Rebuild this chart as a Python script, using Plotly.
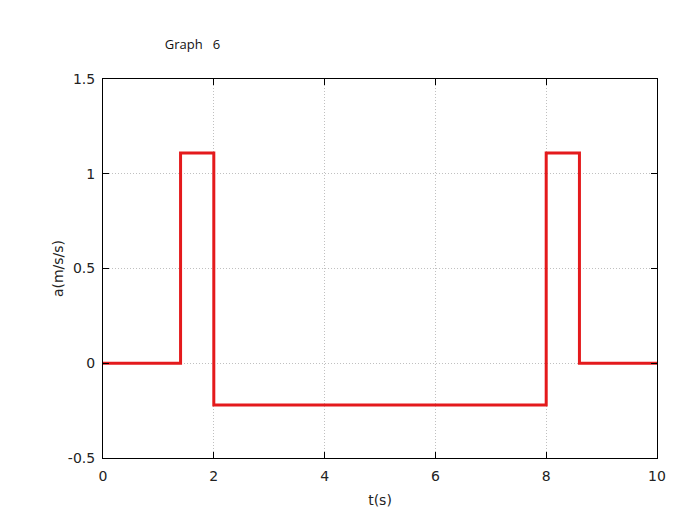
import plotly.graph_objects as go

# step points of the acceleration (drawn as a horizontal-then-vertical step)
t_s = [0, 1.4, 2, 8, 8.6, 10]
a_ms2 = [0, 1.11, -0.22, 1.11, 0, 0]

x_ticks = [0, 2, 4, 6, 8, 10]
y_ticks = [-0.5, 0, 0.5, 1, 1.5]
y_labels = ['-0.5', '0', '0.5', '1', '1.5']

fig = go.Figure()
fig.add_trace(go.Scatter(x=t_s, y=a_ms2, mode='lines', line_shape='hv',
                         line=dict(color='rgb(228,26,28)', width=3)))

axis_style = dict(showline=True, linecolor='black', linewidth=1, mirror='ticks',
                  ticks='inside', ticklen=6, tickcolor='black',
                  showgrid=True, gridcolor='#c0c0c0', griddash='1px,2px', gridwidth=1,
                  zeroline=False, tickfont=dict(family='DejaVu Sans', size=14, color='#222'))

fig.update_xaxes(range=[0, 10], tickvals=x_ticks, ticklabelstandoff=5,
                 title=dict(text='t(s)', standoff=12,
                            font=dict(family='DejaVu Sans', size=14, color='#222')), **axis_style)
fig.update_yaxes(range=[-0.5, 1.5], tickvals=y_ticks, ticktext=y_labels, ticklabelstandoff=4,
                 title=dict(text='a(m/s/s)', standoff=0,
                            font=dict(family='DejaVu Sans', size=14, color='#222')),
                 **axis_style)

fig.update_layout(width=700, height=531, showlegend=False,
                  plot_bgcolor='white', paper_bgcolor='white',
                  margin=dict(l=95, r=51, t=71, b=81),
                  title=dict(text='Graph   6', x=0.224, xanchor='left', y=0.932, yanchor='middle',
                             font=dict(family='Open Sans', size=13, color='#111')))

fig.write_html("out.html")
